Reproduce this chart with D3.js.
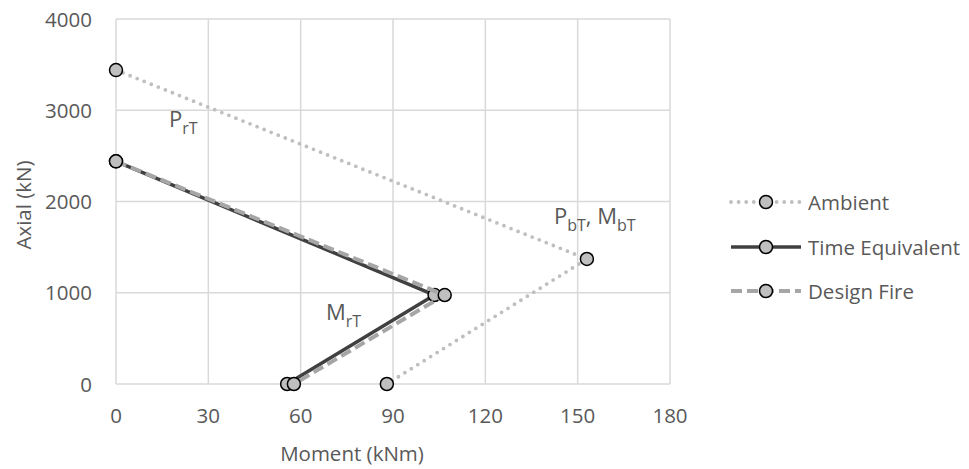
<!DOCTYPE html>
<html>
<head>
<meta charset="utf-8">
<script src="https://cdn.jsdelivr.net/npm/d3@7"></script>
<style>
  body { margin: 0; background: #fff; }
  text { font-family: "Open Sans", sans-serif; fill: #595959; }
</style>
</head>
<body>
<div id="chart"></div>
<script>
// series data
var seriesNames = ['Ambient', 'Time Equivalent', 'Design Fire'];
var ambientMoment = [0, 153, 88];
var ambientAxial = [3440, 1370, 0];
var timeEqMoment = [0, 103.5, 55.6];
var timeEqAxial = [2440, 975, 0];
var designMoment = [0, 106.8, 57.8];
var designAxial = [2440, 975, 0];
var xTicks = [0, 30, 60, 90, 120, 150, 180];
var yTicks = [0, 1000, 2000, 3000, 4000];

var width = 969, height = 469;
var plotLeft = 116, plotRight = 670, plotTop = 19, plotBottom = 384;

var svg = d3.select('#chart').append('svg')
  .attr('width', width)
  .attr('height', height);

var x = d3.scaleLinear().domain([0, 180]).range([plotLeft, plotRight]);
var y = d3.scaleLinear().domain([0, 4000]).range([plotBottom, plotTop]);

// gridlines
svg.append('g').selectAll('line')
  .data(xTicks).enter().append('line')
  .attr('x1', function(d) { return x(d); })
  .attr('x2', function(d) { return x(d); })
  .attr('y1', y(0)).attr('y2', y(4000))
  .attr('stroke', '#d9d9d9').attr('stroke-width', 1.5);
svg.append('g').selectAll('line')
  .data(yTicks).enter().append('line')
  .attr('y1', function(d) { return y(d); })
  .attr('y2', function(d) { return y(d); })
  .attr('x1', x(0)).attr('x2', x(180))
  .attr('stroke', '#d9d9d9').attr('stroke-width', 1.5);

// tick labels
svg.append('g').selectAll('text')
  .data(xTicks).enter().append('text')
  .attr('x', function(d) { return x(d); })
  .attr('y', 423)
  .attr('text-anchor', 'middle')
  .style('font-size', '20.5px')
  .text(function(d) { return d; });
svg.append('g').selectAll('text')
  .data(yTicks).enter().append('text')
  .attr('x', 92)
  .attr('y', function(d) { return y(d) + 7.5; })
  .attr('text-anchor', 'end')
  .style('font-size', '20.5px')
  .text(function(d) { return d; });

// axis titles
svg.append('text')
  .attr('x', 352).attr('y', 461)
  .attr('text-anchor', 'middle')
  .style('font-size', '20.5px')
  .text('Moment (kNm)');
svg.append('text')
  .attr('transform', 'translate(31,205) rotate(-90)')
  .attr('text-anchor', 'middle')
  .style('font-size', '20.5px')
  .text('Axial (kN)');

var styles = [
  { color: '#bfbfbf', width: 3.8, dash: '0,7.6', cap: 'round' },
  { color: '#404040', width: 3.5, dash: null, cap: 'butt' },
  { color: '#a6a6a6', width: 4, dash: '11,5', cap: 'butt' }
];
var series = [
  d3.zip(ambientMoment, ambientAxial),
  d3.zip(timeEqMoment, timeEqAxial),
  d3.zip(designMoment, designAxial)
];

var line = d3.line()
  .x(function(d) { return x(d[0]); })
  .y(function(d) { return y(d[1]); });

series.forEach(function(pts, i) {
  var s = styles[i];
  svg.append('path')
    .attr('d', line(pts))
    .attr('fill', 'none')
    .attr('stroke', s.color)
    .attr('stroke-width', s.width)
    .attr('stroke-linecap', s.cap)
    .attr('stroke-linejoin', 'round')
    .attr('stroke-dasharray', s.dash);
  svg.append('g').selectAll('circle')
    .data(pts).enter().append('circle')
    .attr('cx', function(d) { return x(d[0]); })
    .attr('cy', function(d) { return y(d[1]); })
    .attr('r', 6.5)
    .attr('fill', '#bfbfbf')
    .attr('stroke', '#000')
    .attr('stroke-width', 1.5);
});

// annotations with subscripts
function label(px, py, parts) {
  var t = svg.append('text').attr('x', px).attr('y', py).style('font-size', '22px');
  parts.forEach(function(p) {
    t.append('tspan')
      .attr('dy', p.sub ? 7 : (p.back ? -7 : 0))
      .style('font-size', p.sub ? '16px' : '22px')
      .text(p.t);
  });
}
label(169, 127, [{ t: 'P' }, { t: 'rT', sub: true }]);
label(554, 224, [{ t: 'P' }, { t: 'bT', sub: true }, { t: ', M', back: true }, { t: 'bT', sub: true }]);
label(326, 320, [{ t: 'M' }, { t: 'rT', sub: true }]);

// legend
var legY = [202, 247, 291];
seriesNames.forEach(function(name, i) {
  var s = styles[i];
  svg.append('line')
    .attr('x1', 731).attr('x2', 801)
    .attr('y1', legY[i]).attr('y2', legY[i])
    .attr('stroke', s.color)
    .attr('stroke-width', s.width)
    .attr('stroke-linecap', s.cap)
    .attr('stroke-dasharray', s.dash);
  svg.append('circle')
    .attr('cx', 766).attr('cy', legY[i]).attr('r', 6.5)
    .attr('fill', '#bfbfbf').attr('stroke', '#000').attr('stroke-width', 1.5);
  svg.append('text')
    .attr('x', 808).attr('y', legY[i] + 7.5)
    .style('font-size', '20.5px')
    .text(name);
});
</script>
</body>
</html>
